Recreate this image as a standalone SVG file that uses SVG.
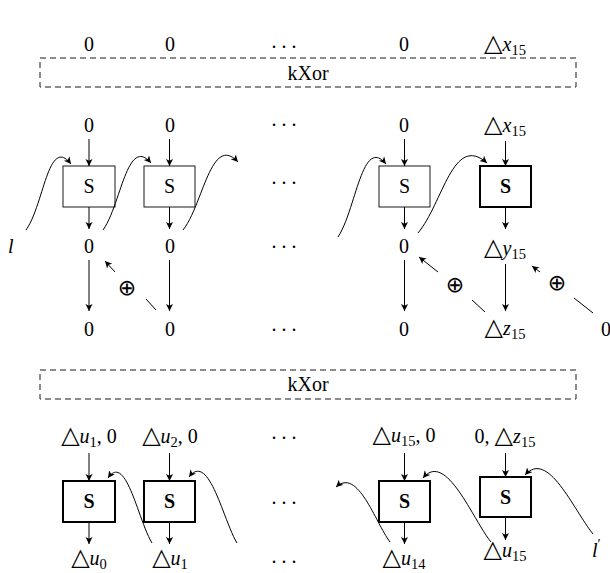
<svg xmlns="http://www.w3.org/2000/svg" width="610" height="573" viewBox="0 0 610 573">
<style>
.t{font-family:"Liberation Serif","Times New Roman",serif;font-size:20px;fill:#000}
.c{text-anchor:middle}
.i{font-style:italic}
.s{font-size:14.5px;font-style:normal}
.tri{font-family:"DejaVu Sans",sans-serif;font-size:24px;font-style:normal}
.op{font-family:"DejaVu Sans",sans-serif;font-size:22px;font-weight:normal}
.b{font-weight:bold}
.ln{stroke:#000;stroke-width:1;fill:none}
.ar{marker-end:url(#ah)}
.box{fill:#fff;stroke:#000;stroke-width:0.9}
.thick{stroke-width:2}
.dash{fill:none;stroke:#000;stroke-width:0.9;stroke-dasharray:6 4}
</style>
<defs>
<marker id="ah" markerUnits="userSpaceOnUse" markerWidth="9" markerHeight="8" refX="7" refY="3.5" orient="auto">
<path d="M0,0 L7,3.5 L0,7 L1.8,3.5 z" fill="#000"/>
</marker>
</defs>
<rect width="610" height="573" fill="#fff"/>

<g id="top-row">
<text class="t c" x="89" y="51">0</text>
<text class="t c" x="170" y="51">0</text>
<text class="t" x="271.5" y="47.5" letter-spacing="5">...</text>
<text class="t c" x="404" y="51">0</text>
<text class="t c" x="505" y="51"><tspan class="tri">△</tspan><tspan class="i">x</tspan><tspan class="s" dy="4">15</tspan></text>
</g>

<g id="kxor1">
<rect class="dash" x="40" y="58" width="536" height="29"/>
<text class="t c" x="308" y="80">kXor</text>
</g>

<g id="r1-in">
<text class="t c" x="89" y="132">0</text>
<text class="t c" x="170" y="132">0</text>
<text class="t" x="271.5" y="126" letter-spacing="5">...</text>
<text class="t c" x="404" y="132">0</text>
<text class="t c" x="505" y="132"><tspan class="tri">△</tspan><tspan class="i">x</tspan><tspan class="s" dy="4">15</tspan></text>
</g>

<g id="s1a"><rect class="box" x="63" y="166" width="52" height="41"/><text class="t c" x="89" y="193">S</text></g>
<g id="s1b"><rect class="box" x="144" y="166" width="51" height="41"/><text class="t c" x="169.5" y="193">S</text></g>
<text class="t" x="271.5" y="184" letter-spacing="5">...</text>
<g id="s1c"><rect class="box" x="379" y="166" width="51" height="41"/><text class="t c" x="404.5" y="193">S</text></g>
<g id="s1d"><rect class="box thick" x="480" y="166" width="51" height="41"/><text class="t c b" x="505.5" y="193">S</text></g>

<g id="r1-mid">
<text class="t i" x="8" y="253">l</text>
<text class="t c" x="89" y="253">0</text>
<text class="t c" x="170" y="253">0</text>
<text class="t" x="271.5" y="248" letter-spacing="5">...</text>
<text class="t c" x="404" y="253">0</text>
<text class="t c" x="505" y="255"><tspan class="tri">△</tspan><tspan class="i">y</tspan><tspan class="s" dy="4">15</tspan></text>
</g>

<g id="r1-out">
<text class="t c" x="89" y="336">0</text>
<text class="t c" x="170" y="336">0</text>
<text class="t" x="271.5" y="331" letter-spacing="5">...</text>
<text class="t c" x="404" y="336">0</text>
<text class="t c" x="505" y="335"><tspan class="tri">△</tspan><tspan class="i">z</tspan><tspan class="s" dy="4">15</tspan></text>
<text class="t c" x="606" y="336">0</text>
</g>

<g id="xor-labels">
<text class="op c" x="127" y="295">⊕</text>
<text class="op c" x="455" y="292">⊕</text>
<text class="op c" x="557" y="290">⊕</text>
</g>

<g id="kxor2">
<rect class="dash" x="40" y="370" width="536" height="29"/>
<text class="t c" x="308" y="391">kXor</text>
</g>

<g id="r2-in">
<text class="t c" x="89" y="443"><tspan class="tri">△</tspan><tspan class="i">u</tspan><tspan class="s" dy="4">1</tspan><tspan dy="-4">, 0</tspan></text>
<text class="t c" x="170" y="443"><tspan class="tri">△</tspan><tspan class="i">u</tspan><tspan class="s" dy="4">2</tspan><tspan dy="-4">, 0</tspan></text>
<text class="t" x="271.5" y="439" letter-spacing="5">...</text>
<text class="t c" x="404" y="442"><tspan class="tri">△</tspan><tspan class="i">u</tspan><tspan class="s" dy="4">15</tspan><tspan dy="-4">, 0</tspan></text>
<text class="t c" x="505" y="443">0, <tspan class="tri">△</tspan><tspan class="i">z</tspan><tspan class="s" dy="4">15</tspan></text>
</g>

<g id="s2a"><rect class="box thick" x="63" y="481" width="52" height="41"/><text class="t c b" x="89" y="508">S</text></g>
<g id="s2b"><rect class="box thick" x="144" y="481" width="51" height="41"/><text class="t c b" x="169.5" y="508">S</text></g>
<text class="t" x="271.5" y="504" letter-spacing="5">...</text>
<g id="s2c"><rect class="box thick" x="379" y="481" width="51" height="41"/><text class="t c b" x="404.5" y="508">S</text></g>
<g id="s2d"><rect class="box thick" x="480" y="477" width="51" height="40"/><text class="t c b" x="505.5" y="503.5">S</text></g>

<g id="r2-out">
<text class="t c" x="89" y="565"><tspan class="tri">△</tspan><tspan class="i">u</tspan><tspan class="s" dy="4">0</tspan></text>
<text class="t c" x="170" y="565"><tspan class="tri">△</tspan><tspan class="i">u</tspan><tspan class="s" dy="4">1</tspan></text>
<text class="t" x="271.5" y="563" letter-spacing="5">...</text>
<text class="t c" x="404" y="565"><tspan class="tri">△</tspan><tspan class="i">u</tspan><tspan class="s" dy="4">14</tspan></text>
<text class="t c" x="505" y="557"><tspan class="tri">△</tspan><tspan class="i">u</tspan><tspan class="s" dy="4">15</tspan></text>
<text class="t" x="592" y="557"><tspan class="i">l</tspan><tspan class="s" dy="-8">′</tspan></text>
</g>

<g id="connectors">
<path class="ln ar" d="M89,139 V166"/>
<path class="ln ar" d="M169.5,139 V166"/>
<path class="ln ar" d="M404.5,139 V166"/>
<path class="ln ar" d="M505.5,141 V166"/>
<path class="ln ar" d="M89,207 V229"/>
<path class="ln ar" d="M169.5,207 V229"/>
<path class="ln ar" d="M404.5,207 V229"/>
<path class="ln ar" d="M505.5,207 V229"/>
<path class="ln ar" d="M89,260 V311"/>
<path class="ln ar" d="M169.5,260 V311"/>
<path class="ln ar" d="M404.5,260 V311"/>
<path class="ln ar" d="M505.5,264 V311"/>
<path class="ln" d="M156,310 L146,299"/>
<path class="ln ar" d="M115,272 L105,261"/>
<path class="ln" d="M485,312 L472,300"/>
<path class="ln ar" d="M438,272 L419,257"/>
<path class="ln" d="M593,313 L574,298"/>
<path class="ln ar" d="M540,272 L532,266"/>
<path class="ln ar" d="M26,230 c18,-25 22,-95 45,-66"/>
<path class="ln ar" d="M103,230 c18,-25 24,-95 48,-67"/>
<path class="ln ar" d="M183,230 c20,-25 28,-97 55,-68"/>
<path class="ln ar" d="M338,237 c18,-27 24,-102 48,-73"/>
<path class="ln ar" d="M418,233 c25,-30 35,-100 69,-70"/>
<path class="ln ar" d="M89,453 V481"/>
<path class="ln ar" d="M169.5,453 V481"/>
<path class="ln ar" d="M404.5,453 V481"/>
<path class="ln ar" d="M505.5,453 V477"/>
<path class="ln ar" d="M89,522 V544"/>
<path class="ln ar" d="M169.5,522 V544"/>
<path class="ln ar" d="M404.5,522 V544"/>
<path class="ln ar" d="M505.5,517 V540"/>
<path class="ln ar" d="M152,543 c-14,-23 -26,-91 -44,-65"/>
<path class="ln ar" d="M237,543 c-14,-23 -28,-92 -48,-66"/>
<path class="ln ar" d="M390,542 c-15,-20 -32,-75 -54,-55"/>
<path class="ln ar" d="M491,542 c-18,-22 -45,-92 -68,-64"/>
<path class="ln ar" d="M593,534 c-20,-25 -45,-85 -68,-59"/>
</g>
</svg>
